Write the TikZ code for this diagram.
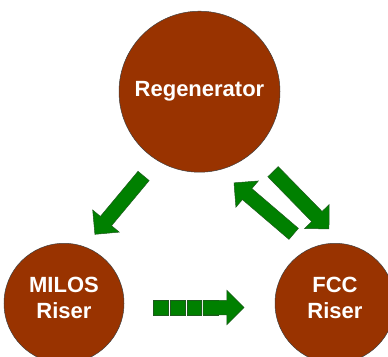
\documentclass[tikz,border=0pt]{standalone}
\usepackage{fontspec}
\setmainfont{Liberation Sans}
\usetikzlibrary{shapes.arrows}

\definecolor{vesselbrown}{HTML}{993300}
\definecolor{flowgreen}{HTML}{008000}
\definecolor{flowedge}{HTML}{1E5A1E}

\begin{document}
\begin{tikzpicture}[x=1pt, y=-1pt,
    vessel/.style={circle, draw=black!75, line width=0.5pt, fill=vesselbrown,
                   inner sep=0pt, text=white, align=center,
                   font=\fontsize{22}{26}\selectfont\bfseries},
    flow/.style={single arrow, draw=flowedge, line width=0.5pt, fill=flowgreen,
                 inner xsep=0pt, inner ysep=7pt, minimum width=34pt,
                 single arrow head extend=10pt, single arrow head indent=0pt,
                 sloped, allow upside down},
    flowbit/.style={rectangle, draw=flowedge, line width=0.5pt, fill=flowgreen,
                    inner sep=0pt, minimum size=14.5pt}]
  \useasboundingbox (0,0) rectangle (388,356);

  % Vessels
  \node[vessel, minimum size=161pt] (regen) at (199.5,91.7) {Regenerator};
  \node[vessel, minimum size=120pt, text depth=10pt] (milos) at (64,303.3) {MILOS\\Riser};
  \node[vessel, minimum size=120pt, text depth=10pt] (fcc) at (335,303.3) {FCC\\Riser};

  % Catalyst flow
  \path (regen.238.5) -- node[flow, pos=0.4875, minimum height=76pt] {} (milos.70.3);
  \path (regen.312.7) -- node[flow, pos=0.5, minimum height=80pt] {} (fcc.82.2);
  \path (fcc.114.9) -- node[flow, pos=0.48, minimum height=78.5pt] {} (regen.284.2);

  % Dashed link MILOS -> FCC
  \foreach \p in {0.244, 0.3545, 0.465, 0.5755}
    \path (milos.-4) -- node[flowbit, pos=\p] {} (fcc.184);
  \path (milos.-4) -- node[flow, pos=0.6356, minimum height=41pt] {} (fcc.184);
\end{tikzpicture}
\end{document}
